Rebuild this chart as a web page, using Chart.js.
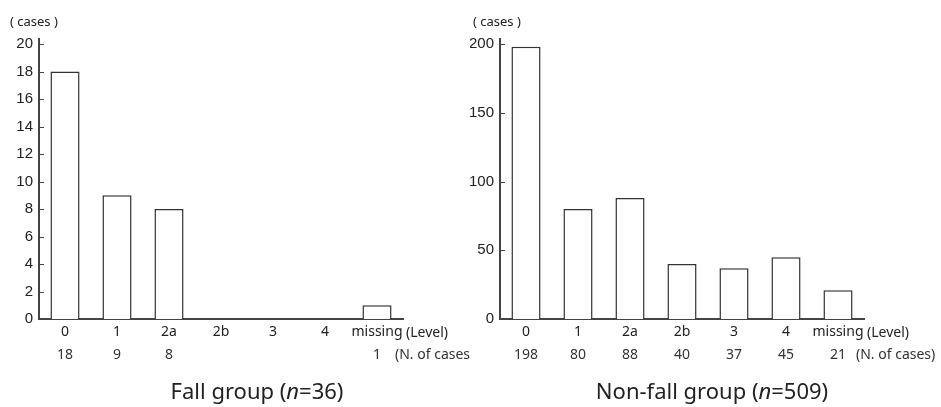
<!DOCTYPE html>
<html>
<head>
<meta charset="utf-8">
<script src="https://cdn.jsdelivr.net/npm/chart.js@4.4.1/dist/chart.umd.min.js"></script>
<style>
  body { margin: 0; background: #fff; }
  #wrap { position: relative; width: 941px; height: 407px; }
  .box { position: absolute; top: 0; height: 407px; }
</style>
</head>
<body>
<div id="wrap">
  <div class="box" style="left:0;width:470px"><canvas id="fallChart"></canvas></div>
  <div class="box" style="left:470px;width:471px"><canvas id="nonFallChart"></canvas></div>
</div>
<script>
const levels = ["0", "1", "2a", "2b", "3", "4", "missing"];
const fallCases = [18, 9, 8, 0, 0, 0, 1];
const nonFallCases = [198, 80, 88, 40, 37, 45, 21];
const fallTicks = [0, 2, 4, 6, 8, 10, 12, 14, 16, 18, 20];
const nonFallTicks = [0, 50, 100, 150, 200];

const humanist = "'Noto Sans', 'Open Sans', sans-serif";
Chart.defaults.font.family = "'Liberation Sans', Arial, sans-serif";
Chart.defaults.color = "#222";

// extra texts: (cases), (Level), N. of cases row, group title, inward y ticks
const extrasPlugin = {
  id: "extras",
  afterDraw(chart, args, opts) {
    const ctx = chart.ctx;
    const area = chart.chartArea;
    const x = chart.scales.x;
    const y = chart.scales.y;
    ctx.save();

    // axis line runs a bit past the top tick
    ctx.strokeStyle = "#444";
    ctx.lineWidth = 2;
    ctx.beginPath();
    ctx.moveTo(area.left, area.top - 6);
    ctx.lineTo(area.left, area.top + 1);
    ctx.stroke();

    // small tick marks pointing into the plot
    ctx.lineWidth = 1;
    y.ticks.forEach(t => {
      const py = Math.round(y.getPixelForValue(t.value)) + 0.5;
      ctx.beginPath();
      ctx.moveTo(area.left, py);
      ctx.lineTo(area.left + 5, py);
      ctx.stroke();
    });

    ctx.fillStyle = "#222";
    ctx.textBaseline = "middle";
    ctx.font = "13px " + humanist;
    ctx.textAlign = "left";
    ctx.fillText("( cases )", opts.casesX, 22);

    const last = x.getPixelForValue(levels.length - 1);
    ctx.font = "14px " + humanist;
    ctx.fillText("(Level)", last + 29, 333);
    ctx.fillStyle = "#333";
    ctx.fillText("(N. of cases)", last + 18, 355);

    ctx.textAlign = "center";
    opts.values.forEach((v, i) => {
      if (v > 0) ctx.fillText(String(v), x.getPixelForValue(i), 355);
    });

    // title with italic n
    ctx.fillStyle = "#222";
    const parts = [
      ["22px " + humanist, opts.title + " ("],
      ["italic 22px " + humanist, "n"],
      ["22px " + humanist, "=" + opts.n + ")"]
    ];
    let total = 0;
    parts.forEach(p => { ctx.font = p[0]; total += ctx.measureText(p[1]).width; });
    let px = opts.titleX - total / 2;
    ctx.textAlign = "left";
    parts.forEach(p => {
      ctx.font = p[0];
      ctx.fillText(p[1], px, 393);
      px += ctx.measureText(p[1]).width;
    });
    ctx.restore();
  }
};

function makeChart(id, values, ticks, yWidth, rightPad, extras) {
  return new Chart(document.getElementById(id), {
    type: "bar",
    data: {
      labels: levels,
      datasets: [{
        data: values.map(v => (v > 0 ? v : null)), // empty levels get no bar
        backgroundColor: "#fff",
        borderColor: "#333",
        borderWidth: 1.5,
        barPercentage: 0.56,
        categoryPercentage: 1.0
      }]
    },
    options: {
      responsive: true,
      maintainAspectRatio: false,
      animation: false,
      layout: { padding: { left: 0, right: rightPad, top: 44, bottom: 0 } },
      scales: {
        x: {
          grid: { display: false, drawTicks: false },
          border: { display: true, color: "#444", width: 2 },
          ticks: { font: { size: 14, family: humanist }, padding: 5, autoSkip: false, maxRotation: 0 },
          afterFit: s => { s.height = 88; }
        },
        y: {
          min: 0,
          max: ticks[ticks.length - 1],
          grid: { display: false, drawTicks: false },
          border: { display: true, color: "#444", width: 2 },
          ticks: { font: { size: 15 }, padding: 6 },
          afterBuildTicks: s => { s.ticks = ticks.map(v => ({ value: v })); },
          afterFit: s => { s.width = yWidth; }
        }
      },
      plugins: {
        legend: { display: false },
        tooltip: { enabled: false },
        extras: extras
      }
    },
    plugins: [extrasPlugin]
  });
}

makeChart("fallChart", fallCases, fallTicks, 39, 67,
  { values: fallCases, title: "Fall group", n: 36, titleX: 257, casesX: 10 });
makeChart("nonFallChart", nonFallCases, nonFallTicks, 30, 77,
  { values: nonFallCases, title: "Non-fall group", n: 509, titleX: 242, casesX: 3 });
</script>
</body>
</html>
